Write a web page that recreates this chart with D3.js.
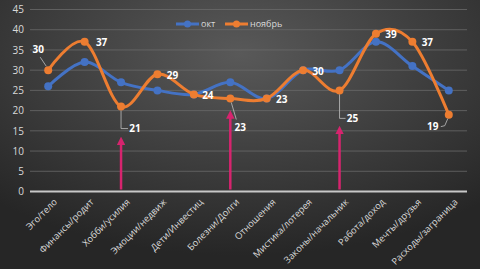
<!DOCTYPE html>
<html>
<head>
<meta charset="utf-8">
<script src="https://cdn.jsdelivr.net/npm/d3@7"></script>
<style>
  body { margin: 0; background: #333; }
  svg { display: block; font-family: "Open Sans", "Noto Sans", sans-serif; }
</style>
</head>
<body>
<div id="chart"></div>
<script>
// data
const categories = ["Эго/тело", "Финансы/родит", "Хобби/усилия", "Эмоции/недвиж", "Дети/Инвестиц",
  "Болезни/Долги", "Отношения", "Мистика/лотерея", "Законы/начальник", "Работа/доход",
  "Мечты/друзья", "Расходы/заграница"];
const octValues = [26, 32, 27, 25, 24, 27, 23, 30, 30, 37, 31, 25];
const novValues = [30, 37, 21, 29, 24, 23, 23, 30, 25, 39, 37, 19];
const yTicks = [0, 5, 10, 15, 20, 25, 30, 35, 40, 45];
const seriesNames = ["окт", "ноябрь"];
// arrows: category and the value where the head points
const arrowCats = ["Хобби/усилия", "Болезни/Долги", "Законы/начальник"];
const arrowTops = [13.5, 20, 16.2];

// label placement for the ноябрь values (dx, dy from the point, leader type)
const labelPos = [
  {dx: -10, dy: -21, leader: "diag"},
  {dx: 17, dy: 1, leader: null},
  {dx: 14, dy: 22, leader: "elbow"},
  {dx: 15, dy: 1, leader: null},
  {dx: 14, dy: 1, leader: null},
  {dx: 10, dy: 29, leader: "diag"},
  {dx: 15, dy: 1, leader: null},
  {dx: 15, dy: 1, leader: null},
  {dx: 13, dy: 28, leader: "elbow"},
  {dx: 15, dy: 1, leader: null},
  {dx: 15, dy: 1, leader: null},
  {dx: -16, dy: 12, leader: "back"}
];

const width = 480, height = 269;
const svg = d3.select("#chart").append("svg")
  .attr("width", width)
  .attr("height", height);

// background
const defs = svg.append("defs");
const grad = defs.append("radialGradient")
  .attr("id", "bg")
  .attr("cx", "50%").attr("cy", "20%").attr("r", "75%");
grad.append("stop").attr("offset", "0%").attr("stop-color", "#595959");
grad.append("stop").attr("offset", "100%").attr("stop-color", "#262626");
svg.append("rect").attr("width", width).attr("height", height).attr("fill", "url(#bg)");

defs.append("marker")
  .attr("id", "head")
  .attr("viewBox", "0 0 10 10")
  .attr("refX", 5).attr("refY", 5)
  .attr("markerWidth", 3.4).attr("markerHeight", 3.4)
  .attr("orient", "auto")
  .append("path")
  .attr("d", "M0,0L10,5L0,10z")
  .attr("fill", "#d6246e");

// scales
const x = d3.scaleBand().domain(categories).range([30, 467]);
const cx = d => x(d) + x.bandwidth() / 2;
const y = d3.scaleLinear().domain([0, 45]).range([191.5, 9.5]);

// grid
svg.append("g")
  .selectAll("line")
  .data(yTicks.filter(t => t > 0))
  .enter().append("line")
  .attr("x1", 30).attr("x2", 467)
  .attr("y1", d => y(d)).attr("y2", d => y(d))
  .attr("stroke", "#6a6a6a")
  .attr("stroke-width", 0.8);

// y axis labels
const yAxis = svg.append("g")
  .attr("transform", "translate(24,0)")
  .call(d3.axisLeft(y).tickValues(yTicks).tickSize(0).tickPadding(0));
yAxis.select(".domain").remove();
yAxis.selectAll("text")
  .attr("fill", "#d9d9d9")
  .style("font-size", "10px")
  .style("font-family", "Open Sans, sans-serif");

// baseline
svg.append("line")
  .attr("x1", 30).attr("x2", 467)
  .attr("y1", y(0)).attr("y2", y(0))
  .attr("stroke", "#c8c8c8")
  .attr("stroke-width", 2);

// x labels
svg.append("g")
  .selectAll("text")
  .data(categories)
  .enter().append("text")
  .attr("transform", d => "translate(" + (cx(d) + 5) + ",198) rotate(-45)")
  .attr("text-anchor", "end")
  .attr("dy", "0.7em")
  .attr("fill", "#d9d9d9")
  .style("font-size", "9.3px")
  .text(d => d);

// arrows
svg.append("g")
  .selectAll("line")
  .data(arrowCats)
  .enter().append("line")
  .attr("x1", d => cx(d)).attr("x2", d => cx(d))
  .attr("y1", y(0) - 2)
  .attr("y2", (d, i) => y(arrowTops[i]) + 4)
  .attr("stroke", "#d6246e")
  .attr("stroke-width", 2.5)
  .attr("marker-end", "url(#head)");

// lines
const line = d3.line()
  .x((d, i) => cx(categories[i]))
  .y(d => y(d))
  .curve(d3.curveCatmullRom.alpha(0));

const series = [
  {name: seriesNames[0], values: octValues, color: "#4472c4"},
  {name: seriesNames[1], values: novValues, color: "#ed7d31"}
];

series.forEach(s => {
  svg.append("path")
    .datum(s.values)
    .attr("d", line)
    .attr("fill", "none")
    .attr("stroke", s.color)
    .attr("stroke-width", 3)
    .attr("stroke-linecap", "round");
  svg.append("g")
    .selectAll("circle")
    .data(s.values)
    .enter().append("circle")
    .attr("cx", (d, i) => cx(categories[i]))
    .attr("cy", d => y(d))
    .attr("r", 4)
    .attr("fill", s.color);
});

// data labels for ноябрь
const lab = svg.append("g");
novValues.forEach((v, i) => {
  const px = cx(categories[i]), py = y(v);
  const p = labelPos[i];
  const lx = px + p.dx, ly = py + p.dy;
  if (p.leader == "diag") {
    lab.append("line")
      .attr("x1", px + (p.dx > 0 ? 1 : -2)).attr("y1", py + (p.dy > 0 ? 4 : -4))
      .attr("x2", lx + (p.dx > 0 ? -4 : 2)).attr("y2", ly + (p.dy > 0 ? -8 : 8))
      .attr("stroke", "#bfbfbf").attr("stroke-width", 0.8);
  } else if (p.leader == "elbow") {
    lab.append("polyline")
      .attr("points", [[px, py + 4], [px, ly], [lx - 7, ly]].join(" "))
      .attr("fill", "none").attr("stroke", "#bfbfbf").attr("stroke-width", 0.8);
  } else if (p.leader == "back") {
    lab.append("polyline")
      .attr("points", [[lx + 8, ly], [lx + 12, ly - 1], [px - 1, py + 4]].join(" "))
      .attr("fill", "none").attr("stroke", "#bfbfbf").attr("stroke-width", 0.8);
  }
  lab.append("text")
    .attr("x", lx).attr("y", ly)
    .attr("dy", "0.35em")
    .attr("text-anchor", "middle")
    .attr("fill", "#ffffff")
    .style("font-size", "10px")
    .style("font-weight", "bold")
    .text(v);
});

// legend
const legend = svg.append("g").attr("transform", "translate(176,24)");
series.forEach((s, i) => {
  const g = legend.append("g").attr("transform", "translate(" + (i * 49) + ",0)");
  g.append("line").attr("x1", 0).attr("x2", 23).attr("y1", 0).attr("y2", 0)
    .attr("stroke", s.color).attr("stroke-width", 3);
  g.append("circle").attr("cx", 11.5).attr("cy", 0).attr("r", 3.5).attr("fill", s.color);
  g.append("text").attr("x", 25).attr("dy", "0.35em")
    .attr("fill", "#d9d9d9")
    .style("font-size", "9px")
    .text(s.name);
});
</script>
</body>
</html>
